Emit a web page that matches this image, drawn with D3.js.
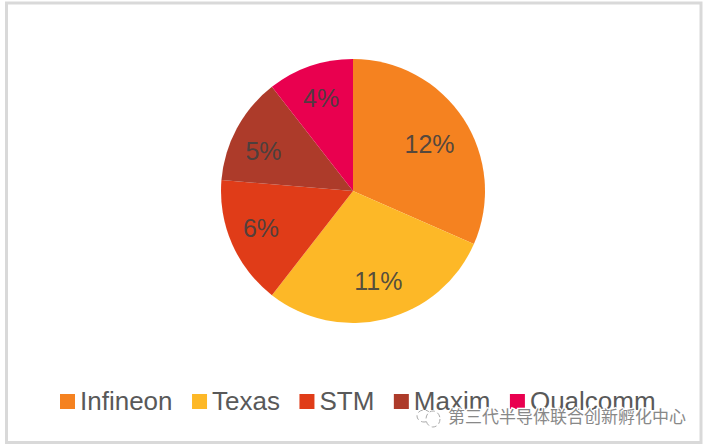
<!DOCTYPE html>
<html>
<head>
<meta charset="utf-8">
<script src="https://cdn.jsdelivr.net/npm/d3@7"></script>
<style>
  body { margin: 0; background: #fff; }
  svg { display: block; }
</style>
</head>
<body>
<div class="chart"></div>
<script>
let names = ['Infineon', 'Texas', 'STM', 'Maxim', 'Qualcomm']
let values = [12, 11, 6, 5, 4]
let labels = ['12%', '11%', '6%', '5%', '4%']
let colors = ['#f58220', '#fdb827', '#e03c18', '#ad3b2a', '#e9004f']

let width = 708
let height = 448

// small nudges off the arc centroid, labels were placed by hand in the original
let labelNudge = [[-3, 5], [2, -2], [-5, -1], [-6, 5], [-1, -3]]

let svg = d3.select('.chart')
            .append('svg')
            .attr('width', width)
            .attr('height', height)

// outer frame
svg.append('rect')
    .attr('x', 6.5)
    .attr('y', 3)
    .attr('width', 694.5)
    .attr('height', 439.5)
    .attr('fill', '#fff')
    .attr('stroke', '#d9d9d9')
    .attr('stroke-width', 3)

let pie = d3.pie().sort(null)
let slices = pie(values)

let arc = d3.arc().innerRadius(0).outerRadius(132)
let labelArc = d3.arc().innerRadius(95).outerRadius(95)

let g = svg.append('g').attr('transform', 'translate(353,191)')

g.selectAll('path')
    .data(slices)
    .enter()
    .append('path')
    .attr('d', arc)
    .attr('fill', (d, i) => colors[i])

g.selectAll('text')
    .data(slices)
    .enter()
    .append('text')
    .attr('transform', (d, i) => {
        let c = labelArc.centroid(d)
        return `translate(${c[0] + labelNudge[i][0]},${c[1] + labelNudge[i][1]})`
    })
    .attr('text-anchor', 'middle')
    .attr('dy', '0.36em')
    .attr('font-family', 'Liberation Sans')
    .attr('font-size', 25)
    .attr('fill', '#404040')
    .attr('fill-opacity', 0.9)
    .text((d, i) => labels[i])

// legend
let legendX = 60
names.forEach((item, i) => {
    svg.append('rect')
        .attr('x', legendX)
        .attr('y', 394)
        .attr('width', 15)
        .attr('height', 15)
        .attr('fill', colors[i])
    let t = svg.append('text')
        .attr('x', legendX + 20)
        .attr('y', 410)
        .attr('font-family', 'Liberation Sans')
        .attr('font-size', 26)
        .attr('fill', '#595959')
        .text(item)
    legendX += 20 + t.node().getComputedTextLength() + 19.5
})

// watermark
let mark = svg.append('g')
mark.append('text')
    .attr('x', 448)
    .attr('y', 423)
    .attr('font-family', 'Noto Sans CJK SC')
    .attr('font-size', 17)
    .attr('fill', '#888')
    .attr('stroke', '#fff')
    .attr('stroke-width', 2.5)
    .attr('paint-order', 'stroke')
    .text('第三代半导体联合创新孵化中心')
let bubbles = [[424, 416, 7, 6], [433, 419, 7, 8]]
mark.selectAll('ellipse')
    .data(bubbles)
    .enter()
    .append('ellipse')
    .attr('cx', d => d[0])
    .attr('cy', d => d[1])
    .attr('rx', d => d[2])
    .attr('ry', d => d[3])
    .attr('fill', '#fff')
    .attr('stroke', '#aaa')
    .attr('stroke-dasharray', '5 3')
</script>
</body>
</html>
